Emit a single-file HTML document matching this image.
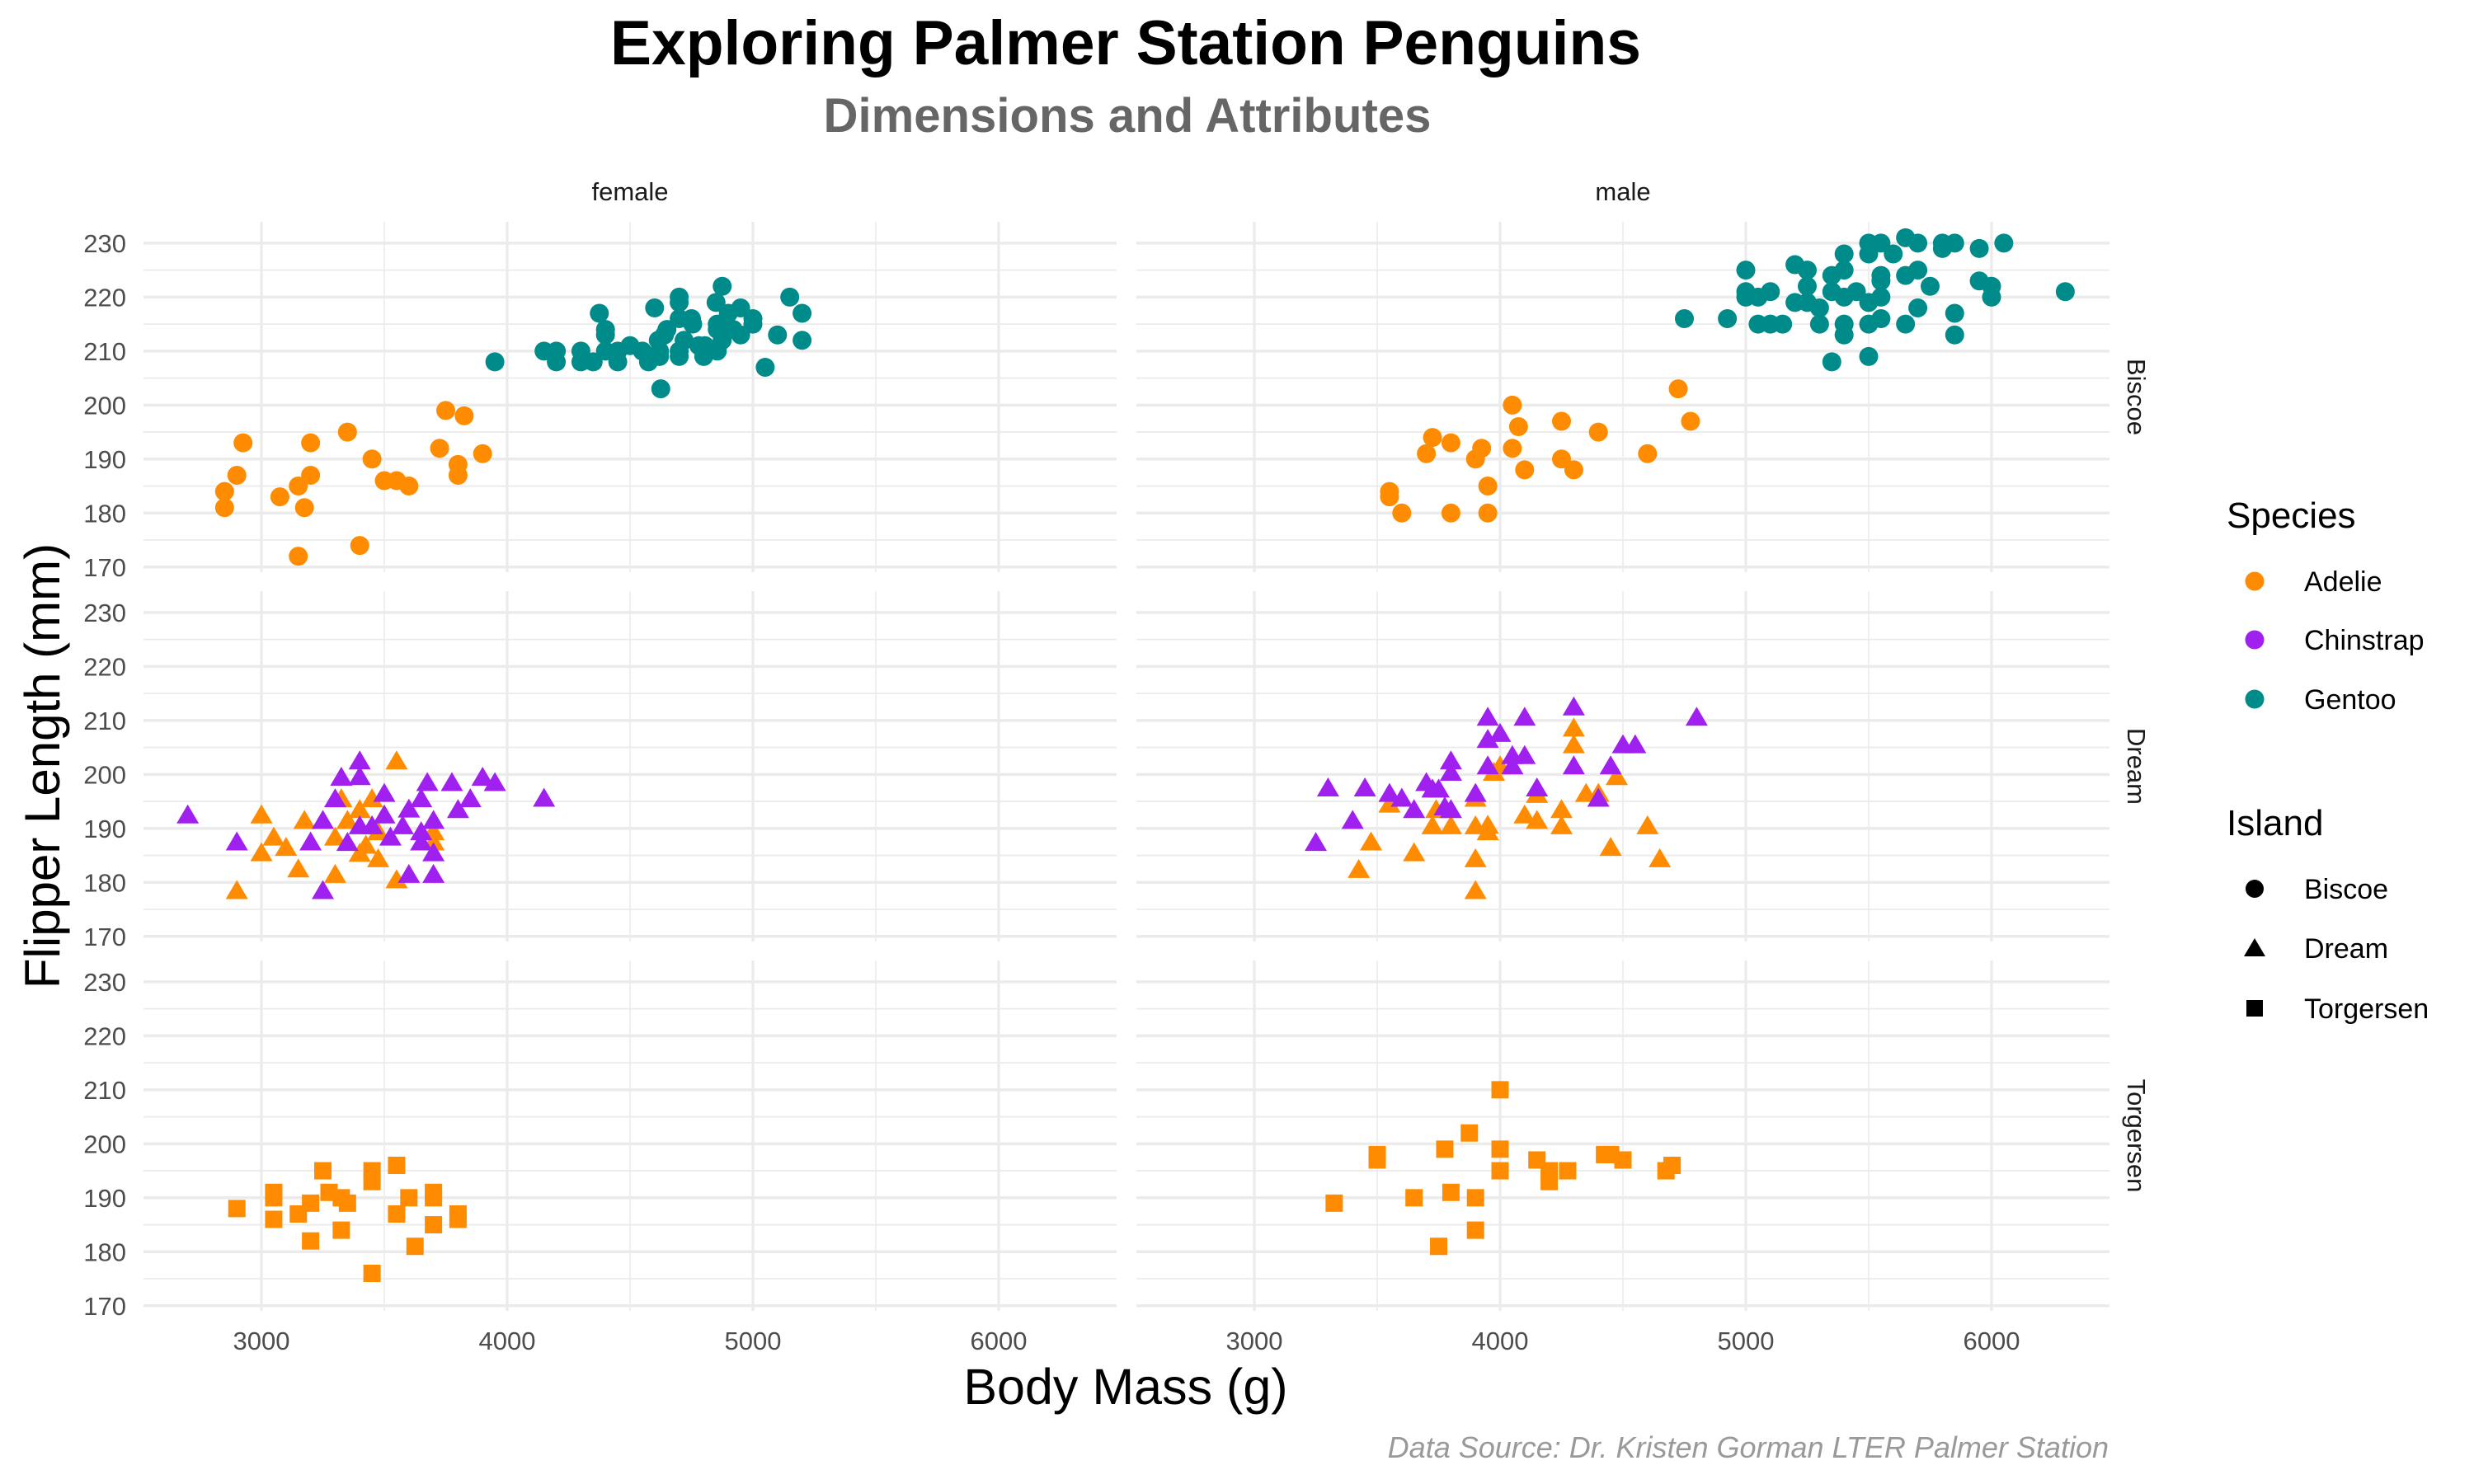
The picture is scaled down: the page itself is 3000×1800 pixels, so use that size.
<!DOCTYPE html>
<html><head><meta charset="utf-8"><style>
html,body{margin:0;padding:0;background:#fff;}
svg{display:block;font-family:"Liberation Sans",Arial,sans-serif;}
</style></head><body>
<svg id="chart" width="3000" height="1800" viewBox="0 0 3000 1800" xmlns="http://www.w3.org/2000/svg">
<rect width="3000" height="1800" fill="#fff"/>
<text x="1365" y="78" text-anchor="middle" font-size="76" font-weight="bold" fill="#000" textLength="1250" lengthAdjust="spacingAndGlyphs">Exploring Palmer Station Penguins</text>
<text x="1367" y="160" text-anchor="middle" font-size="58" font-weight="bold" fill="#666" textLength="737" lengthAdjust="spacingAndGlyphs">Dimensions and Attributes</text>
<g id="grid"></g>
<g id="marks"></g>
<g id="labels"></g>
<text x="1365" y="1703" text-anchor="middle" font-size="61" fill="#000">Body Mass (g)</text>
<text transform="translate(72,929) rotate(-90)" text-anchor="middle" font-size="60" fill="#000">Flipper Length (mm)</text>
<text x="2557" y="1768" text-anchor="end" font-size="36" font-style="italic" fill="#999">Data Source: Dr. Kristen Gorman LTER Palmer Station</text>
<g>
<text x="2700" y="640" font-size="44" fill="#000">Species</text>
<g><circle cx="2734" cy="705" r="11.5" fill="#FF8C00"/><text x="2794" y="717" font-size="34">Adelie</text></g>
<g><circle cx="2734" cy="776" r="11.5" fill="#A020F0"/><text x="2794" y="788" font-size="34">Chinstrap</text></g>
<g><circle cx="2734" cy="848" r="11.5" fill="#008B8B"/><text x="2794" y="860" font-size="34">Gentoo</text></g>
<text x="2700" y="1013" font-size="44" fill="#000">Island</text>
<g><circle cx="2734" cy="1078" r="11" fill="#000"/><text x="2794" y="1090" font-size="34">Biscoe</text></g>
<g><polygon points="2734,1138 2747,1160 2721,1160" fill="#000"/><text x="2794" y="1162" font-size="34">Dream</text></g>
<g><rect x="2724" y="1213" width="20" height="20" fill="#000"/><text x="2794" y="1235" font-size="34">Torgersen</text></g>
</g>
</svg>
<script>
// ---- data (per facet panel) ----
const xTicks=[3000,4000,5000,6000];
const yTicks=[170,180,190,200,210,220,230];
const sexes=['female','male'];
const islands=['Biscoe','Dream','Torgersen'];

const fBiscoeMass=[2850,2850,2900,2925,3075,3150,3150,3175,3200,3200,3350,3400,3450,3500,3550,3600,3725,3750,3800,3800,3825,3900,
3950,4150,4200,4200,4300,4300,4350,4375,4400,4400,4400,4450,4450,4500,4550,4575,4600,4615,4620,4620,4625,4650,4640,4700,4700,4700,4700,4700,4720,4750,4755,4780,4800,4805,4850,4855,4855,4855,4875,4875,4900,4920,4950,4950,5000,5000,5050,5100,5150,5200,5200];
const fBiscoeFlipper=[184,181,187,193,183,185,172,181,193,187,195,174,190,186,186,185,192,199,189,187,198,191,
208,210,210,208,210,208,208,217,214,213,210,208,210,211,210,208,218,212,210,209,203,214,213,220,219,216,210,209,212,216,215,211,209,211,219,215,214,210,222,212,217,214,218,213,215,216,207,213,220,217,212];
const fBiscoeSpecies=['A','A','A','A','A','A','A','A','A','A','A','A','A','A','A','A','A','A','A','A','A','A',
'G','G','G','G','G','G','G','G','G','G','G','G','G','G','G','G','G','G','G','G','G','G','G','G','G','G','G','G','G','G','G','G','G','G','G','G','G','G','G','G','G','G','G','G','G','G','G','G','G','G','G'];

const mBiscoeMass=[3550,3550,3600,3700,3725,3800,3800,3900,3925,3950,3950,4050,4075,4050,4100,4250,4250,4300,4400,4600,4725,4775,
4750,4925,5000,5000,5000,5050,5050,5100,5100,5150,5200,5250,5200,5250,5250,5300,5300,5350,5350,5350,5400,5400,5400,5400,5400,5450,5500,5500,5500,5500,5500,5550,5550,5550,5550,5550,5600,5650,5650,5650,5700,5700,5700,5750,5800,5800,5850,5850,5850,5950,5950,6000,6000,6050,6300];
const mBiscoeFlipper=[184,183,180,191,194,193,180,190,192,185,180,200,196,192,188,197,190,188,195,191,203,197,
216,216,225,221,220,220,215,221,215,215,226,225,219,222,219,218,215,224,221,208,228,225,220,215,213,221,230,228,219,215,209,230,224,223,220,216,228,231,224,215,230,225,218,222,230,229,230,217,213,229,223,222,220,230,221];
const mBiscoeSpecies=['A','A','A','A','A','A','A','A','A','A','A','A','A','A','A','A','A','A','A','A','A','A',
'G','G','G','G','G','G','G','G','G','G','G','G','G','G','G','G','G','G','G','G','G','G','G','G','G','G','G','G','G','G','G','G','G','G','G','G','G','G','G','G','G','G','G','G','G','G','G','G','G','G','G','G','G','G','G'];

const fDreamMass=[3550,3000,2900,3000,3050,3100,3175,3150,3300,3300,3325,3350,3400,3450,3425,3400,3475,3475,3550,3700,3700,
2700,2900,3250,3200,3250,3300,3325,3400,3400,3350,3400,3450,3500,3500,3525,3575,3600,3650,3650,3650,3675,3700,3700,3600,3700,3775,3800,3850,3900,3950,4150];
const fDreamFlipper=[202.6,192.6,178.6,185.6,188.5,186.6,191.6,182.6,181.6,188.5,195.6,191.6,193.6,195.6,187,185.5,184.5,189.5,180.6,189.5,187.6,
192.6,187.6,178.6,187.6,191.6,195.6,199.6,202.6,199.7,187.5,190.6,190.6,196.6,192.6,188.5,190.6,193.7,189.5,187.6,195.6,198.6,191.6,185.6,181.6,181.6,198.6,193.6,195.6,199.6,198.6,195.7];
const fDreamSpecies=['A','A','A','A','A','A','A','A','A','A','A','A','A','A','A','A','A','A','A','A','A',
'C','C','C','C','C','C','C','C','C','C','C','C','C','C','C','C','C','C','C','C','C','C','C','C','C','C','C','C','C','C','C'];

const mDreamMass=[4000,3975,4300,4300,4475,3550,4350,4400,4150,3900,3740,3725,3800,3900,3950,3950,4100,4150,4250,4250,3475,3650,3900,3425,3900,4450,4600,4650,
3250,3300,3400,3450,3550,3600,3650,3700,3725,3750,3800,3800,3775,3800,3900,3950,3950,4000,3950,4050,4050,4100,4100,4150,4300,4300,4450,4400,4500,4550,4800];
const mDreamFlipper=[201.7,200.5,208.7,205.6,199.7,194.6,196.6,196.6,196.4,195.7,193.6,190.6,190.6,190.6,190.7,189.5,192.6,191.6,193.6,190.6,187.6,185.6,184.5,182.5,178.6,186.6,190.6,184.5,
187.5,197.6,191.6,197.6,196.6,195.7,193.6,198.6,197.4,197.4,202.6,200.5,194.1,193.6,196.6,210.7,206.6,207.7,201.7,203.6,201.7,203.6,210.7,197.6,212.6,201.7,201.7,195.7,205.6,205.6,210.7];
const mDreamSpecies=['A','A','A','A','A','A','A','A','A','A','A','A','A','A','A','A','A','A','A','A','A','A','A','A','A','A','A','A',
'C','C','C','C','C','C','C','C','C','C','C','C','C','C','C','C','C','C','C','C','C','C','C','C','C','C','C','C','C','C','C'];

const fTorgMass=[2900,3050,3050,3050,3250,3200,3150,3200,3275,3325,3350,3325,3450,3450,3450,3550,3600,3550,3625,3700,3700,3700,3800,3800];
const fTorgFlipper=[188,191,190,186,195,189,187,182,191,190,189,184,195,193,176,196,190,187,181,191,190,185,187,186];
const fTorgSpecies=['A','A','A','A','A','A','A','A','A','A','A','A','A','A','A','A','A','A','A','A','A','A','A','A'];

const mTorgMass=[4000,3875,3775,4000,3500,3500,4150,4200,4200,4275,4425,4450,4500,4675,4700,4000,3800,3650,3900,3325,3900,3750];
const mTorgFlipper=[210,202,199,199,198,197,197,195,193,195,198,198,197,195,196,195,191,190,190,189,184,181];
const mTorgSpecies=['A','A','A','A','A','A','A','A','A','A','A','A','A','A','A','A','A','A','A','A','A','A'];

const panels=[
 {col:0,row:0,mass:fBiscoeMass,flip:fBiscoeFlipper,sp:fBiscoeSpecies,shape:'circle'},
 {col:1,row:0,mass:mBiscoeMass,flip:mBiscoeFlipper,sp:mBiscoeSpecies,shape:'circle'},
 {col:0,row:1,mass:fDreamMass,flip:fDreamFlipper,sp:fDreamSpecies,shape:'triangle'},
 {col:1,row:1,mass:mDreamMass,flip:mDreamFlipper,sp:mDreamSpecies,shape:'triangle'},
 {col:0,row:2,mass:fTorgMass,flip:fTorgFlipper,sp:fTorgSpecies,shape:'square'},
 {col:1,row:2,mass:mTorgMass,flip:mTorgFlipper,sp:mTorgSpecies,shape:'square'}
];

// ---- layout ----
const NS='http://www.w3.org/2000/svg';
const colLeft=[174,1378], panelW=1180;
const rowTop=[269,717,1165], panelH=425;
const xMin=2520,xMax=6480,yMin=169.05,yMax=233.95;
const colors={A:'#FF8C00',C:'#A020F0',G:'#008B8B'};
function xs(col,m){return colLeft[col]+(m-xMin)/(xMax-xMin)*panelW;}
function ys(row,f){return rowTop[row]+(yMax-f)/(yMax-yMin)*panelH;}
function mk(tag,attrs,parent){const e=document.createElementNS(NS,tag);for(const k in attrs)e.setAttribute(k,attrs[k]);parent.appendChild(e);return e;}

const grid=document.getElementById('grid');
const marks=document.getElementById('marks');
const labels=document.getElementById('labels');

for(let c=0;c<2;c++){
 for(let r=0;r<3;r++){
  const L=colLeft[c],T=rowTop[r];
  for(let v=175;v<=225;v+=10){const y=ys(r,v);const l=mk('line',{x1:L,x2:L+panelW,y1:y,y2:y,stroke:'#EBEBEB','stroke-width':1.8},grid);
   
   }
  for(let v=2500;v<=6500;v+=1000){const x=xs(c,v);if(x<L||x>L+panelW)continue;const l=mk('line',{x1:x,x2:x,y1:T,y2:T+panelH,stroke:'#EBEBEB','stroke-width':1.6},grid);
   
   }
  yTicks.forEach(v=>{const y=ys(r,v);const l=mk('line',{x1:L,x2:L+panelW,y1:y,y2:y,stroke:'#EBEBEB','stroke-width':3.5},grid);
   
   });
  xTicks.forEach(v=>{const x=xs(c,v);const l=mk('line',{x1:x,x2:x,y1:T,y2:T+panelH,stroke:'#EBEBEB','stroke-width':3.2},grid);
   
   });
 }
}
for(let r=0;r<3;r++){
 yTicks.forEach(v=>{const t=mk('text',{x:153,y:ys(r,v)+11,'text-anchor':'end','font-size':31,fill:'#4D4D4D'},labels);t.textContent=v;
  
  });
}
for(let c=0;c<2;c++){
 xTicks.forEach(v=>{const t=mk('text',{x:xs(c,v),y:1637,'text-anchor':'middle','font-size':31,fill:'#4D4D4D'},labels);t.textContent=v;
  
  });
}
sexes.forEach((s,c)=>{const t=mk('text',{x:colLeft[c]+panelW/2,y:243,'text-anchor':'middle','font-size':31,fill:'#1A1A1A'},labels);t.textContent=s;
 
 });
islands.forEach((s,r)=>{const cy=rowTop[r]+panelH/2;const t=mk('text',{x:2580,y:cy,'text-anchor':'middle','font-size':31,fill:'#1A1A1A',transform:'rotate(90 2580 '+cy+')'},labels);t.textContent=s;
 
 });

panels.forEach(p=>{
 p.mass.forEach((m,i)=>{
  const x=xs(p.col,m),y=ys(p.row,p.flip[i]),fill=colors[p.sp[i]];
  let e;
  if(p.shape==='circle'){e=mk('circle',{cx:x,cy:y,r:11.5,fill:fill},marks);}
  else if(p.shape==='triangle'){e=mk('polygon',{points:(x)+','+(y-12)+' '+(x+13.5)+','+(y+11)+' '+(x-13.5)+','+(y+11),fill:fill},marks);}
  else {e=mk('rect',{x:x-10.5,y:y-10.5,width:21,height:21,fill:fill},marks);}
  
  
 });
});
</script>
</body></html>
